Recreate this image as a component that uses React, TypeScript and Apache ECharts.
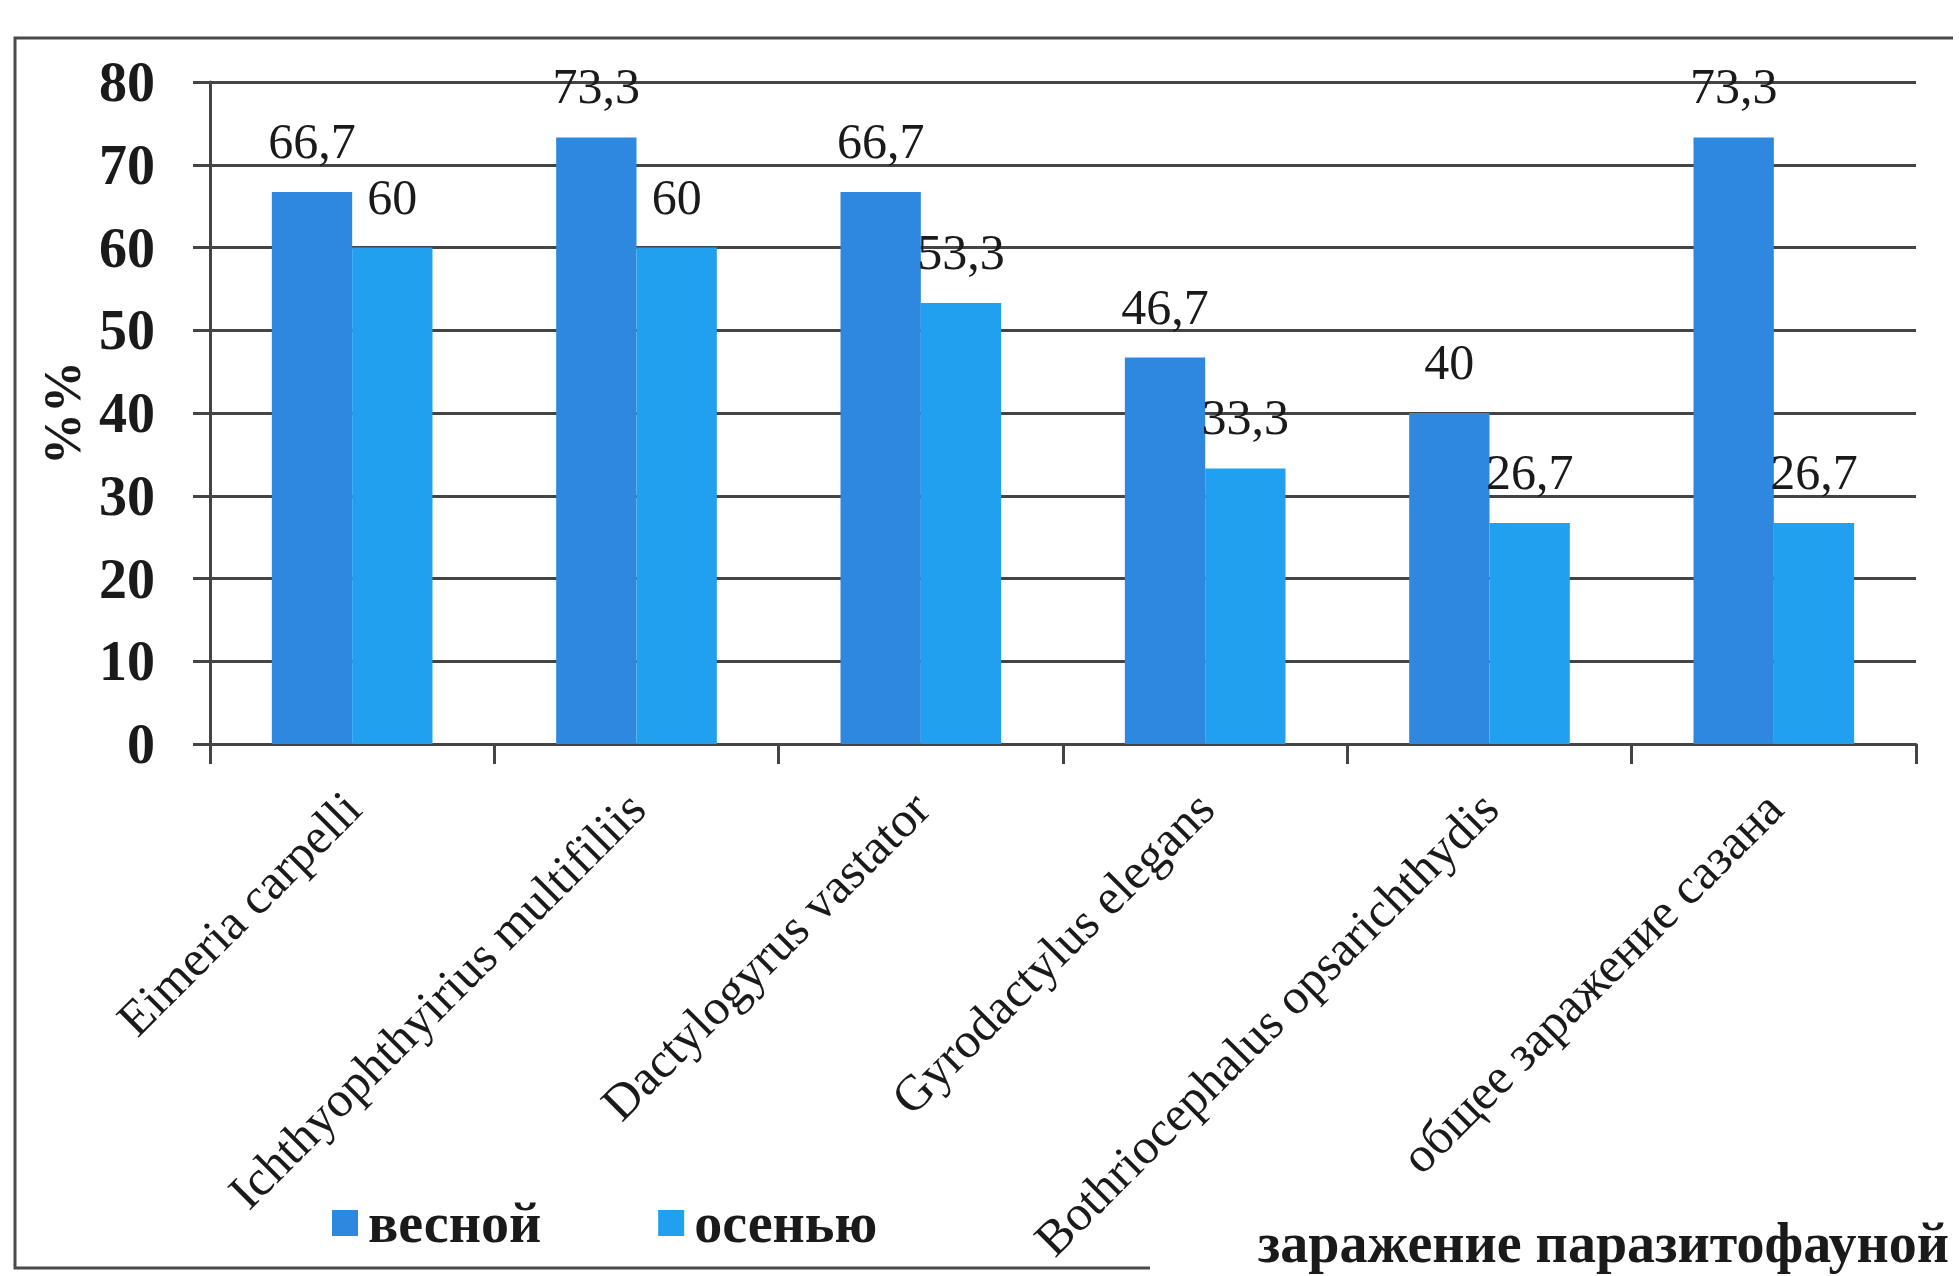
import React, { useEffect, useRef } from "react";
import * as echarts from "echarts";

const categories = [
  "Eimeria carpelli",
  "Ichthyophthyirius multifiliis",
  "Dactylogyrus vastator",
  "Gyrodactylus elegans",
  "Bothriocephalus opsarichthydis",
  "общее заражение сазана",
];
const springValues = [66.7, 73.3, 66.7, 46.7, 40, 73.3];
const autumnValues = [60, 60, 53.3, 33.3, 26.7, 26.7];
const seriesNames = ["весной", "осенью"];
const yAxisTitle = "%%";
const xAxisTitle = "заражение паразитофауной";

const FONT = "'Liberation Serif', 'DejaVu Serif', serif";
const fmt = (v: number) => String(v).replace(".", ",");

export default function App() {
  const ref = useRef<HTMLDivElement>(null);
  useEffect(() => {
    if (!ref.current) return;
    const chart = echarts.init(ref.current, null, { renderer: "svg" });
    const labelStyle = {
      show: true,
      position: "top",
      distance: 26,
      fontFamily: FONT,
      fontSize: 50,
      color: "#1a1a1a",
      formatter: (p: any) => fmt(p.value),
    };
    chart.setOption({
      animation: false,
      backgroundColor: "#ffffff",
      grid: { left: 210, right: 43, top: 82, bottom: 532, containLabel: false },
      legend: {
        data: seriesNames,
        left: 327,
        top: 1190,
        itemWidth: 26,
        itemHeight: 26,
        itemGap: 117,
        icon: "rect",
        textStyle: {
          fontFamily: FONT,
          fontSize: 56,
          fontWeight: "bold",
          color: "#1a1a1a",
          padding: [0, 0, 0, 5],
        },
      },
      xAxis: {
        type: "category",
        data: categories,
        axisLine: { show: true, lineStyle: { color: "#444444", width: 3 } },
        axisTick: { show: true, length: 20, lineStyle: { color: "#444444", width: 3 } },
        axisLabel: {
          rotate: 45,
          margin: 56,
          interval: 0,
          fontFamily: FONT,
          fontSize: 50,
          color: "#1a1a1a",
        },
      },
      yAxis: {
        type: "value",
        min: 0,
        max: 80,
        interval: 10,
        name: yAxisTitle,
        nameLocation: "middle",
        nameGap: 114,
        nameRotate: 90,
        nameTextStyle: { fontFamily: FONT, fontSize: 52, fontWeight: "bold", color: "#1a1a1a" },
        axisLine: { show: true, lineStyle: { color: "#444444", width: 3 } },
        axisTick: { show: true, length: 17, lineStyle: { color: "#444444", width: 3 } },
        splitLine: { show: true, lineStyle: { color: "#444444", width: 3 } },
        axisLabel: {
          margin: 55,
          fontFamily: FONT,
          fontSize: 56,
          fontWeight: "bold",
          color: "#1a1a1a",
        },
      },
      series: [
        {
          name: seriesNames[0],
          type: "bar",
          data: springValues,
          barGap: "0%",
          barCategoryGap: "43.5%",
          itemStyle: { color: "#2E88DF" },
          label: labelStyle,
        },
        {
          name: seriesNames[1],
          type: "bar",
          data: autumnValues,
          barGap: "0%",
          barCategoryGap: "43.5%",
          itemStyle: { color: "#22A0F0" },
          label: labelStyle,
        },
      ],
      graphic: [
        {
          type: "polyline",
          z: -10,
          silent: true,
          shape: {
            points: [
              [1150, 1268],
              [15, 1268],
              [15, 38],
              [1953, 38],
            ],
          },
          style: { fill: "none", stroke: "#4a4a4a", lineWidth: 3 },
        },
        {
          type: "text",
          x: 1949,
          y: 1243,
          style: {
            text: xAxisTitle,
            align: "right",
            verticalAlign: "middle",
            fontFamily: FONT,
            fontSize: 56,
            fontWeight: "bold",
            fill: "#1a1a1a",
          },
        },
      ],
    });
    return () => chart.dispose();
  }, []);
  return (
    <div
      ref={ref}
      style={{ position: "fixed", left: 0, top: 0, width: 1959, height: 1276 }}
    />
  );
}
